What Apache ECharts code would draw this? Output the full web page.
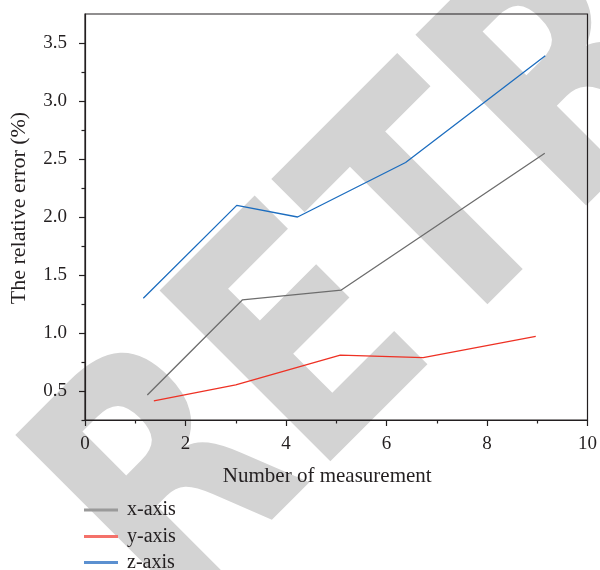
<!DOCTYPE html>
<html>
<head>
<meta charset="utf-8">
<script src="https://cdn.jsdelivr.net/npm/echarts@6/dist/echarts.min.js"></script>
<style>
html,body{margin:0;padding:0;background:#fff;}
#chart{width:600px;height:570px;}
</style>
</head>
<body>
<div id="chart"></div>
<script>
// Data
var seriesNames = ['x-axis', 'y-axis', 'z-axis'];
var xAxisX = [1.24, 3.13, 5.10, 9.15];
var xAxisY = [0.466, 1.285, 1.37, 2.55];
var yAxisX = [1.37, 3.0, 5.08, 6.73, 8.97];
var yAxisY = [0.414, 0.552, 0.809, 0.787, 0.97];
var zAxisX = [1.16, 3.02, 4.23, 6.38, 9.16];
var zAxisY = [1.30, 2.10, 2.00, 2.47, 3.39];
var yMajorTicks = [0.5, 1.0, 1.5, 2.0, 2.5, 3.0, 3.5];
var yMinorTicks = [0.25, 0.75, 1.25, 1.75, 2.25, 2.75, 3.25];
var legendColors = ['#9a9a9a', '#f4716a', '#5b90d0'];
var lineColors = ['#6d6d6d', '#ee3124', '#1c6dbf'];
var watermarkText = 'RETRACTED';

function pairs(xs, ys) { return xs.map(function (x, i) { return [x, ys[i]]; }); }

var serif = 'Liberation Serif';
var textColor = '#231f20';
var axisColor = '#231f20';
var legendTops = [500, 526.5, 552.5];

var legends = seriesNames.map(function (n, i) {
  return {
    orient: 'vertical', left: 84, top: legendTops[i], padding: 0,
    itemWidth: 34, itemHeight: 3,
    textStyle: {fontFamily: serif, fontSize: 20, color: textColor, padding: [0, 0, 0, 4]},
    data: [{name: n, icon: 'rect', itemStyle: {color: legendColors[i]}}]
  };
});

var seriesData = [pairs(xAxisX, xAxisY), pairs(yAxisX, yAxisY), pairs(zAxisX, zAxisY)];

var chart = echarts.init(document.getElementById('chart'), null, {renderer: 'canvas'});
chart.setOption({
  backgroundColor: '#ffffff',
  animation: false,
  graphic: [{
    type: 'text',
    z: -100,
    silent: true,
    x: 108, y: 562,
    rotation: Math.PI / 4,
    scaleX: 1, scaleY: 1.25,
    style: {
      text: watermarkText,
      fill: '#d3d3d3',
      font: 'bold 265px "DejaVu Sans"',
      textAlign: 'left',
      textVerticalAlign: 'middle'
    }
  }],
  grid: {left: 83, top: 14, right: 12, bottom: 150, show: true, borderColor: axisColor, borderWidth: 1.2, backgroundColor: 'transparent'},
  legend: legends,
  xAxis: {
    type: 'value', min: 0, max: 10, interval: 2,
    name: 'Number of measurement', nameLocation: 'middle', nameGap: 46,
    nameTextStyle: {fontFamily: serif, fontSize: 21, color: textColor, padding: [0, 18, 0, 0]},
    axisLine: {show: true, lineStyle: {color: axisColor, width: 1.2}},
    axisTick: {show: true, length: 6, lineStyle: {color: axisColor, width: 1.2}},
    minorTick: {show: true, splitNumber: 2, length: 3.5, lineStyle: {color: axisColor, width: 1.2}},
    axisLabel: {fontFamily: serif, fontSize: 19, color: textColor, margin: 15},
    splitLine: {show: false}
  },
  yAxis: [{
    type: 'value', min: 0.25, max: 3.75, position: 'left',
    name: 'The relative error (%)', nameLocation: 'middle', nameGap: 55,
    nameTextStyle: {fontFamily: serif, fontSize: 22, color: textColor, padding: [0, 0, 0, 18]},
    axisLine: {show: true, lineStyle: {color: axisColor, width: 1.2}},
    axisTick: {show: true, length: 6, customValues: yMajorTicks, lineStyle: {color: axisColor, width: 1.2}},
    axisLabel: {fontFamily: serif, fontSize: 19, color: textColor, margin: 18, customValues: yMajorTicks,
      formatter: function (v) { return v.toFixed(1); }},
    splitLine: {show: false}
  }, {
    type: 'value', min: 0.25, max: 3.75, position: 'left', offset: 0,
    axisLine: {show: false},
    axisTick: {show: true, length: 3.5, customValues: yMinorTicks, lineStyle: {color: axisColor, width: 1.2}},
    axisLabel: {show: false},
    splitLine: {show: false}
  }],
  series: seriesNames.map(function (n, i) {
    return {
      name: n, type: 'line', data: seriesData[i], symbol: 'none', z: 3,
      lineStyle: {color: lineColors[i], width: 1.3}, itemStyle: {color: lineColors[i]}
    };
  })
});
</script>
</body>
</html>
